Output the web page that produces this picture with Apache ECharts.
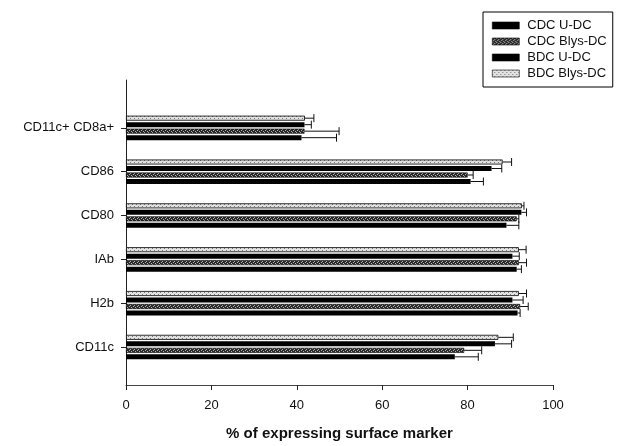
<!DOCTYPE html>
<html>
<head>
<meta charset="utf-8">
<script src="https://cdn.jsdelivr.net/npm/echarts@6/dist/echarts.min.js"></script>
<style>
  html, body { margin: 0; padding: 0; background: #fff; }
  #chart { width: 617px; height: 446px; }
</style>
</head>
<body>
<div id="chart"></div>
<script>
// categories, bottom to top
const categories = ['CD11c', 'H2b', 'IAb', 'CD80', 'CD86', 'CD11c+ CD8a+'];
const seriesNames = ['CDC U-DC', 'CDC Blys-DC', 'BDC U-DC', 'BDC Blys-DC'];

// mean % of expressing cells
const cdcU = [77.0, 91.7, 91.5, 89.1, 80.7, 41.1];
const cdcBlys = [79.2, 92.3, 92.0, 91.5, 80.0, 41.8];
const bdcU = [86.4, 90.5, 90.5, 92.6, 85.6, 41.8];
const bdcBlys = [87.2, 92.0, 92.0, 92.7, 88.2, 41.9];

// error bars (upper side only)
const cdcUErr = [5.5, 0.6, 1.1, 2.9, 3.0, 8.2];
const cdcBlysErr = [4.1, 1.9, 1.8, 0.5, 1.3, 8.1];
const bdcUErr = [3.9, 2.5, 1.6, 1.2, 2.4, 1.6];
const bdcBlysErr = [3.5, 1.8, 1.7, 0.5, 2.1, 2.1];

const xTicks = [0, 20, 40, 60, 80, 100];

const values = [cdcU, cdcBlys, bdcU, bdcBlys];
const errors = [cdcUErr, cdcBlysErr, bdcUErr, bdcBlysErr];

const BAR_W = 5;
const BAR_STEP = 6.5;

// small repeating textures like the printed hatching
function texture(bg, fg, cells) {
  const c = document.createElement('canvas');
  c.width = 4; c.height = 4;
  const ctx = c.getContext('2d');
  ctx.fillStyle = bg;
  ctx.fillRect(0, 0, 4, 4);
  ctx.fillStyle = fg;
  cells.forEach(p => ctx.fillRect(p[0], p[1], 1, 1));
  return { image: c, repeat: 'repeat' };
}

const darkFill = texture('#2a2a2a', '#b0b0b0', [[0, 0], [2, 1], [1, 2], [3, 3]]);
const lightFill = texture('#e2e2e2', '#7a7a7a', [[0, 0], [2, 2]]);

const styles = [
  { color: '#000' },
  { color: darkFill, borderColor: '#000', borderWidth: 0.6 },
  { color: '#000' },
  { color: lightFill, borderColor: '#000', borderWidth: 0.8 }
];
const legendColors = ['#000', darkFill, '#000', lightFill];

const chart = echarts.init(document.getElementById('chart'));

// echarts stacks horizontal bars top-down, so add the last series first
const order = [3, 2, 1, 0];

const barSeries = order.map(i => ({
  name: seriesNames[i],
  type: 'bar',
  xAxisIndex: 0,
  yAxisIndex: 0,
  barWidth: BAR_W,
  barGap: '30%',
  itemStyle: styles[i],
  data: values[i]
}));

const errSeries = order.map((i, slot) => ({
  type: 'custom',
  xAxisIndex: 0,
  yAxisIndex: 0,
  silent: true,
  z: 5,
  data: categories.map((c, k) => [k, values[i][k], values[i][k] + errors[i][k]]),
  renderItem: function (params, api) {
    const k = api.value(0);
    const p0 = api.coord([api.value(1), k]);
    const p1 = api.coord([api.value(2), k]);
    const y = p0[1] + (slot - 1.5) * BAR_STEP;
    return {
      type: 'group',
      children: [
        { type: 'line', shape: { x1: p0[0], y1: y, x2: p1[0], y2: y }, style: { stroke: '#111', lineWidth: 1 } },
        { type: 'line', shape: { x1: p1[0], y1: y - 4, x2: p1[0], y2: y + 4 }, style: { stroke: '#111', lineWidth: 1 } }
      ]
    };
  }
}));

chart.setOption({
  animation: false,
  backgroundColor: '#fff',
  textStyle: { fontFamily: 'Liberation Sans, Arial, sans-serif' },
  legend: {
    orient: 'vertical',
    left: 483,
    top: 12,
    padding: [7, 6, 7, 9],
    itemGap: 3,
    itemWidth: 27,
    itemHeight: 7,
    icon: 'rect',
    borderColor: '#000',
    borderWidth: 1,
    data: seriesNames.map((n, i) => ({ name: n, itemStyle: { color: legendColors[i], borderColor: '#000', borderWidth: 0.6 } })),
    textStyle: { fontSize: 13, color: '#111', padding: [0, 0, 0, 3] }
  },
  grid: [
    { left: 126, right: 64, top: 106, bottom: 77 },
    { left: 126, right: 64, top: 80, bottom: 54 }
  ],
  xAxis: [
    { gridIndex: 0, type: 'value', min: 0, max: 100, interval: 20, show: false },
    {
      gridIndex: 1, type: 'value', min: xTicks[0], max: xTicks[xTicks.length - 1], interval: 20,
      axisLine: { show: true, lineStyle: { color: '#444', width: 1 } },
      axisTick: { show: true, length: 5, lineStyle: { color: '#222' } },
      axisLabel: { fontSize: 13, color: '#111', margin: 14 },
      splitLine: { show: false },
      name: '% of expressing surface marker',
      nameLocation: 'middle',
      nameGap: 41,
      nameTextStyle: { fontSize: 15, fontWeight: 'bold', color: '#111' }
    }
  ],
  yAxis: [
    {
      gridIndex: 0, type: 'category', data: categories,
      axisLine: { show: false },
      axisTick: { show: true, alignWithLabel: true, length: 5, lineStyle: { color: '#222' } },
      axisLabel: { fontSize: 13, color: '#111', margin: 12 }
    },
    {
      gridIndex: 1, type: 'value', min: 0, max: 1,
      axisLine: { show: true, lineStyle: { color: '#222', width: 1 } },
      axisTick: { show: false },
      axisLabel: { show: false },
      splitLine: { show: false }
    }
  ],
  series: barSeries.concat(errSeries)
});
</script>
</body>
</html>
